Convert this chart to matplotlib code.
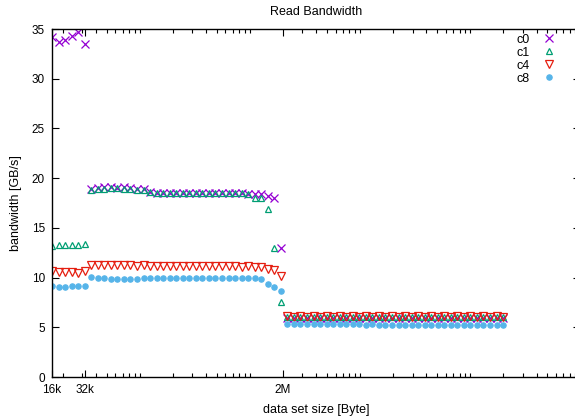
import matplotlib
matplotlib.use('Agg')
import matplotlib.pyplot as plt
from matplotlib.ticker import FixedLocator, LogLocator, NullFormatter

# 数据集大小 (kB, 1k = 1000 Byte)
sizes_kb = [16.0, 18.34, 21.03, 24.11, 27.64, 31.68, 36.32, 41.64, 47.74, 54.72,
            62.74, 71.92, 82.45, 94.52, 108.4, 124.2, 142.4, 163.3, 187.2, 214.6,
            246.0, 282.0, 323.3, 370.6, 424.9, 487.1, 558.4, 640.2, 733.9, 841.3,
            964.5, 1105.7, 1267.6, 1453.2, 1666, 1910, 2189, 2510, 2877, 3299,
            3782, 4335, 4970, 5698, 6532, 7488, 8584, 9841, 11282, 12934,
            14827, 16998, 19486, 22339, 25610, 29359, 33657, 38584, 44233, 50709,
            58133, 66643, 76400, 87585, 100407, 115107, 131958, 151277, 173424, 198813]

# 各配置的带宽 (GB/s)
c0 = [34.2, 33.7, 33.9, 34.3, 34.7, 33.5, 18.9, 19.0, 19.1, 19.1,
      19.0, 19.1, 19.0, 18.9, 18.9, 18.6, 18.5, 18.5, 18.5, 18.5,
      18.5, 18.5, 18.5, 18.5, 18.5, 18.5, 18.5, 18.5, 18.5, 18.5,
      18.4, 18.4, 18.4, 18.2, 18.0, 13.0, 5.95, 5.9, 5.95, 5.9,
      5.95, 5.9, 5.95, 5.9, 5.9, 5.95, 5.9, 5.95, 5.9, 5.9,
      5.95, 5.9, 5.9, 5.95, 5.9, 5.95, 5.9, 5.9, 5.95, 5.9,
      5.95, 5.9, 5.9, 5.95, 5.9, 5.95, 5.9, 5.9, 5.95, 5.9]
c1 = [13.2, 13.3, 13.3, 13.3, 13.3, 13.4, 18.8, 18.9, 18.9, 19.0,
      19.0, 18.9, 18.9, 18.8, 18.8, 18.6, 18.5, 18.5, 18.5, 18.5,
      18.5, 18.5, 18.5, 18.5, 18.5, 18.5, 18.5, 18.5, 18.5, 18.5,
      18.4, 18.0, 18.0, 16.9, 13.0, 7.5, 6.0, 6.0, 6.05, 6.0,
      6.0, 6.05, 6.0, 6.0, 6.0, 6.05, 6.0, 6.0, 6.0, 6.05,
      6.0, 6.0, 6.05, 6.0, 6.0, 6.0, 6.05, 6.0, 6.0, 6.0,
      6.05, 6.0, 6.0, 6.0, 6.05, 6.0, 6.0, 6.0, 6.0, 6.0]
c4 = [10.7, 10.6, 10.6, 10.6, 10.5, 10.7, 11.3, 11.3, 11.3, 11.3,
      11.3, 11.25, 11.25, 11.2, 11.25, 11.2, 11.2, 11.2, 11.2, 11.15,
      11.2, 11.15, 11.15, 11.2, 11.15, 11.15, 11.2, 11.15, 11.15, 11.1,
      11.15, 11.1, 11.1, 10.9, 10.8, 10.15, 6.1, 6.05, 6.1, 6.05,
      6.1, 6.05, 6.1, 6.05, 6.1, 6.05, 6.1, 6.05, 6.1, 6.05,
      6.1, 6.05, 6.1, 6.05, 6.1, 6.05, 6.1, 6.05, 6.1, 6.05,
      6.1, 6.05, 6.1, 6.05, 6.1, 6.05, 6.1, 6.05, 6.1, 6.05]
c8 = [9.2, 9.1, 9.1, 9.2, 9.2, 9.2, 10.1, 10.0, 9.95, 9.9,
      9.9, 9.9, 9.9, 9.9, 9.95, 9.95, 9.95, 10.0, 10.0, 10.0,
      10.0, 10.0, 10.0, 10.0, 10.0, 10.0, 10.0, 10.0, 10.0, 10.0,
      9.95, 9.95, 9.85, 9.35, 9.05, 8.65, 5.3, 5.3, 5.3, 5.3,
      5.3, 5.3, 5.3, 5.3, 5.3, 5.3, 5.3, 5.3, 5.25, 5.3,
      5.25, 5.25, 5.25, 5.25, 5.25, 5.25, 5.25, 5.25, 5.25, 5.2,
      5.2, 5.2, 5.2, 5.2, 5.2, 5.2, 5.2, 5.2, 5.2, 5.2]

xtick_pos = [16000, 32000, 2000000]
xtick_labels = ['16k', '32k', '2M']

series = [('c0', c0, 'x', '#9400D3', 5.8),
          ('c1', c1, '^', '#009E73', 4.6),
          ('c4', c4, 'v', '#E51E10', 5.4),
          ('c8', c8, 'o', '#56B4E9', 3.8)]

plt.rcParams['font.family'] = ['Liberation Sans', 'DejaVu Sans']
plt.rcParams['font.size'] = 9

fig = plt.figure(figsize=(5.75, 4.18), dpi=100)
# 右边框在图片之外 (被裁掉)
ax = fig.add_axes([52 / 575, 41 / 418, 528.4 / 575, 348 / 418])

sizes = [s * 1000 for s in sizes_kb]
for name, vals, mk, col, ms in series:
    if mk == 'x' or mk == 'o':
        ax.plot(sizes, vals, linestyle='none', marker=mk, color=col, markersize=ms,
                markeredgewidth=0.9, label=name)
    else:
        ax.plot(sizes, vals, linestyle='none', marker=mk, markerfacecolor='none',
                markeredgecolor=col, markersize=ms, markeredgewidth=0.9, label=name)

ax.set_xscale('log')
ax.set_xlim(16000, 1e9)
ax.set_ylim(0, 35)

ax.xaxis.set_major_locator(FixedLocator(xtick_pos))
ax.set_xticklabels(xtick_labels)
ax.xaxis.set_minor_locator(LogLocator(base=10, subs=range(1, 10), numticks=30))
ax.xaxis.set_minor_formatter(NullFormatter())
ax.set_yticks(range(0, 36, 5))

ax.tick_params(which='both', direction='in', top=True, right=True, width=0.8, labelsize=8.5)
ax.tick_params(which='major', length=5, pad=5)
ax.tick_params(which='minor', length=3)
for sp in ax.spines.values():
    sp.set_linewidth(1.0)

ax.set_title('Read Bandwidth', fontsize=9, pad=10)
ax.set_xlabel('data set size [Byte]', labelpad=6)
ax.set_ylabel('bandwidth [GB/s]', labelpad=7)

ax.legend(loc='upper right', bbox_to_anchor=(0.972, 1.012), frameon=False,
          markerfirst=False, handlelength=1.2, handletextpad=1.0,
          labelspacing=0.08, borderpad=0.2, fontsize=9)

plt.savefig('out.png', dpi=100)
